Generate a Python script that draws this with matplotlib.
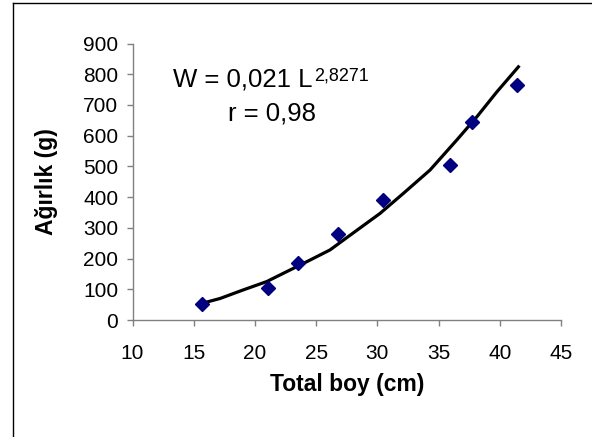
import matplotlib
matplotlib.use("Agg")
import matplotlib.pyplot as plt
from matplotlib.lines import Line2D

plt.rcParams['font.family'] = ['Liberation Sans', 'DejaVu Sans']

# measured points (total length cm, weight g)
boy = [15.65, 21.1, 23.5, 26.76, 30.49, 35.94, 37.71, 41.44]
agirlik = [52, 103, 184, 280, 390, 504, 645, 764]

# trend line
trend_x = [15.65, 17.15, 19.05, 20.96, 22.32, 23.95, 26.13, 27.5, 30.22, 32.12, 34.3, 36.49, 38.12, 39.75, 41.52]
trend_y = [54, 70, 98, 125, 152, 184, 228, 268, 347, 412, 488, 586, 661, 742, 824]

W, H = 592, 437
fig = plt.figure(figsize=(W / 100, H / 100), dpi=100)
ax = fig.add_axes([132.5 / W, 1 - 320 / H, (561 - 132.5) / W, (320 - 43.5) / H])

ax.plot(trend_x, trend_y, color='black', lw=2.3, zorder=2)
ax.plot(boy, agirlik, ls='none', marker='D', ms=6.8, color='#000080', zorder=3)

ax.set_xlim(10, 45)
ax.set_ylim(0, 900)
ax.set_xticks(range(10, 50, 5))
ax.set_yticks(range(0, 1000, 100))
ax.spines['top'].set_visible(False)
ax.spines['right'].set_visible(False)
for s in ('left', 'bottom'):
    ax.spines[s].set_color('#808080')
    ax.spines[s].set_linewidth(1)
ax.tick_params(direction='out', length=4.3, width=1, color='#808080', labelsize=15)
ax.tick_params(axis='x', pad=13)
ax.tick_params(axis='y', pad=6)

ax.set_xlabel('Total boy (cm)', fontsize=16.5, fontweight='bold', va='center')
ax.set_ylabel('Ağırlık (g)', fontsize=16.5, fontweight='bold', va='center')
ax.xaxis.set_label_coords(0.5, (320 - 384) / 276.5)
ax.yaxis.set_label_coords((46 - 132.5) / 428.5, 0.5)

# equation label
t = fig.text(173 / W, 1 - 87 / H, 'W = 0,021 L', fontsize=18.5, ha='left', va='baseline')
ax.annotate('2,8271', xy=(1, 0), xycoords=t, xytext=(1.5, 8), textcoords='offset points',
            fontsize=13, ha='left', va='baseline')
fig.text(272 / W, 1 - 120 / H, 'r = 0,98', fontsize=18.5, ha='center', va='baseline')

# chart frame (only left and top edges fall inside the picture)
fig.add_artist(Line2D([12.5 / W, 12.5 / W], [0, 1 - 3 / H], color='black', lw=1))
fig.add_artist(Line2D([12.5 / W, 1], [1 - 3 / H, 1 - 3 / H], color='black', lw=1))

fig.savefig('out.png', dpi=100)
